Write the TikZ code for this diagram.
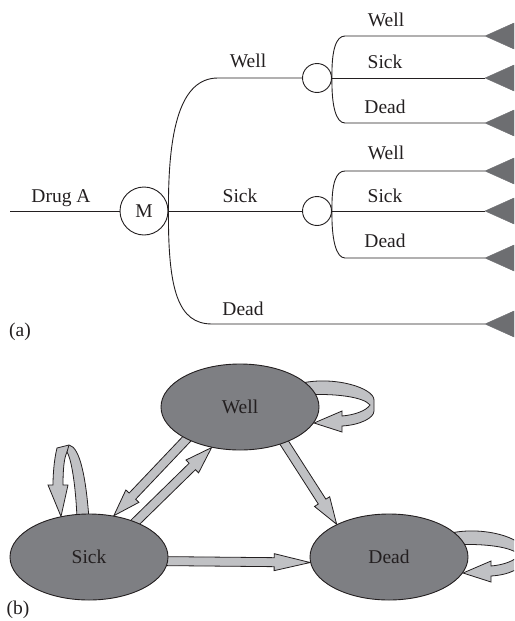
\documentclass[tikz,border=0pt]{standalone}
\usepackage{fontspec}
\setmainfont{Liberation Serif}
\usetikzlibrary{calc,shapes.geometric}
\pgfdeclarelayer{bg}
\pgfsetlayers{bg,main}
\definecolor{ellfill}{HTML}{7E7F83}
\definecolor{arrfill}{HTML}{C0C1C4}
\definecolor{looplight}{HTML}{DCDDDF}
\definecolor{trifill}{HTML}{6D6E71}
\definecolor{ink}{HTML}{231F20}
\newcommand\fatarrow[5]{%
  \coordinate (fs) at ($(#4)!-6pt!(#5)$);
  \coordinate (fe) at (#5);
  \coordinate (fc) at ($(fe)!#3!(fs)$);
  \filldraw[fatfill] ($(fs)!#1!90:(fe)$) -- ($(fc)!#1!90:(fe)$) -- ($(fc)!#2!90:(fe)$) -- (fe) -- ($(fc)!#2!-90:(fe)$) -- ($(fc)!#1!-90:(fe)$) -- ($(fs)!#1!-90:(fe)$) -- cycle;}
\tikzset{
  lbl/.style={font=\fontsize{19.5}{23}\selectfont, text=ink, inner sep=0, anchor=base},
  treeline/.style={draw=ink, line width=0.9pt},
  chance/.style={circle, draw=ink, fill=white, line width=0.9pt, minimum size=29pt, inner sep=0},
  markov/.style={circle, draw=ink, fill=white, line width=0.9pt, minimum size=48pt, inner sep=0, font=\fontsize{19.5}{23}\selectfont, text=ink},
  term/.style={fill=trifill, draw=trifill, line width=0.4pt},
  state/.style={ellipse, draw=ink, fill=ellfill, line width=0.9pt, minimum width=158pt, minimum height=86pt, inner sep=0, font=\fontsize{19.5}{23}\selectfont, text=ink},
  fatfill/.style={draw=ink, fill=arrfill, line width=0.8pt, line join=miter},
  ribbon/.pic={
    \filldraw[fatfill, pic actions] (62,-24) .. controls (95,-31) and (134,-19) .. (134,-7)
      -- (134,4) .. controls (134,11) and (120,18) .. (102,19)
      -- (102,25) -- (74,16) -- (102,4) -- (102,9)
      .. controls (114,8) and (126,4) .. (130,-2)
      .. controls (124,-10) and (95,-14) .. (64,-12) -- cycle;
  },
  sickloop/.pic={
    \filldraw[fatfill, pic actions] (0,-38) .. controls (-3,-79) and (-9,-110) .. (-20,-112)
      -- (-32,-109) .. controls (-35,-97) and (-36,-82) .. (-36,-72)
      -- (-41,-72) -- (-28,-40.5) -- (-21,-72) -- (-26,-72)
      .. controls (-26,-87) and (-25,-99) .. (-22,-105)
      .. controls (-17,-97) and (-13,-67) .. (-12,-38) -- cycle;
    \draw[ink, line width=0.8pt] (-20,-112) -- (-22,-105);
  }
}
\begin{document}
\begin{tikzpicture}[x=1pt,y=-1pt]
\useasboundingbox (0,0) rectangle (514,621);
% ---------- (a) decision tree ----------
\coordinate (start) at (10,211);
\node[markov] (M) at (144,211) {M};
\node[lbl] (drugA) at (61,202) {Drug A};
\draw[treeline] (start) -- (M);
\node[chance] (c1) at (317,78) {};
\node[chance] (c2) at (317,211) {};
\coordinate (b1) at (218,78);
\coordinate (b3) at (212,324);
\coordinate (t0) at (485,324);
\draw[treeline] (M.east) .. controls (168,130) and (180,78) .. (b1) -- (c1.west);
\draw[treeline] (M.east) -- (c2.west);
\draw[treeline] (M.east) .. controls (168,290) and (178,324) .. (b3) -- (t0);
\node[lbl] (lw) at (248,67) {Well};
\node[lbl] (ls) at (240,202) {Sick};
\node[lbl] (ld) at (243,315) {Dead};
% sub-branches
\coordinate (t1) at (485,36);
\coordinate (t2) at (485,78);
\coordinate (t3) at (485,123);
\coordinate (t4) at (485,171);
\coordinate (t5) at (485,211);
\coordinate (t6) at (485,258);
\draw[treeline] (c1.east) .. controls (331.5,50) and (336,36) .. (345,36) -- (t1);
\draw[treeline] (c1.east) -- (t2);
\draw[treeline] (c1.east) .. controls (331.5,106) and (336,123) .. (345,123) -- (t3);
\draw[treeline] (c2.east) .. controls (331.5,183) and (336,171) .. (345,171) -- (t4);
\draw[treeline] (c2.east) -- (t5);
\draw[treeline] (c2.east) .. controls (331.5,239) and (336,258) .. (345,258) -- (t6);
\node[lbl] (l1w) at (386,26) {Well};
\node[lbl] (l1s) at (385,68) {Sick};
\node[lbl] (l1d) at (385,113) {Dead};
\node[lbl] (l2w) at (386,159) {Well};
\node[lbl] (l2s) at (385,202) {Sick};
\node[lbl] (l2d) at (385,247) {Dead};
\foreach \t in {t0,t1,t2,t3,t4,t5,t6}{
  \filldraw[term] (\t) -- ++(29,-13) -- ++(0,26) -- cycle;
}
\node[lbl] (capa) at (20,336) {(a)};
% ---------- (b) Markov states ----------
\node[state] (well) at (240,407) {Well};
\node[state] (sick) at (89,557) {Sick};
\node[state] (dead) at (389,557) {Dead};
\node[lbl] (capb) at (18,614) {(b)};
\begin{pgfonlayer}{bg}
  \fatarrow{4.5pt}{9pt}{27pt}{well.211}{sick.59}
  \fatarrow{4.5pt}{9pt}{27pt}{sick.37}{well.235}
  \fatarrow{4.5pt}{9pt}{27pt}{well.-39}{dead.148}
  \fatarrow{4.5pt}{8.5pt}{36pt}{sick.-3}{dead.184}
  \pic at (well.center) {ribbon};
  \pic at (sick.center) {sickloop};
  \begin{scope}
    \clip (0,0) rectangle (514,621);
    \pic[fill=looplight] at (dead.center) {ribbon};
  \end{scope}
\end{pgfonlayer}
\end{tikzpicture}
\end{document}
